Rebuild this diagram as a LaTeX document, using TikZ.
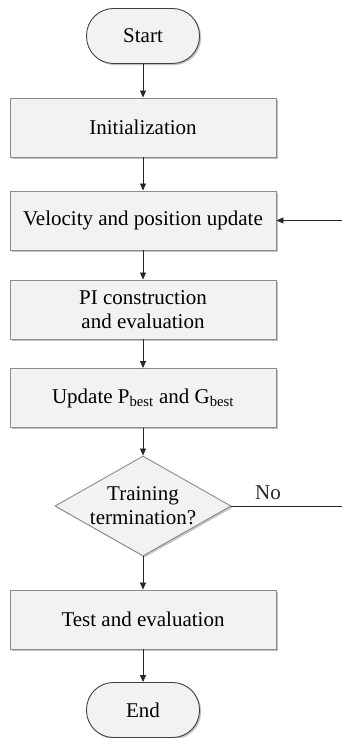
\documentclass[tikz,border=0pt]{standalone}
\usepackage{fontspec}
\setmainfont{Liberation Serif}
\usepackage{xcolor}
\usetikzlibrary{arrows.meta,shapes.geometric,shadows}
\colorlet{boxfill}{black!5}
\colorlet{boxline}{black!45}
\colorlet{termline}{black!75}
\tikzstyle{shade}=[drop shadow={shadow xshift=1.6pt,shadow yshift=-1.6pt,fill=black!40,opacity=.6}]
\tikzstyle{proc}=[rectangle,draw=boxline,fill=boxfill,line width=.9pt,shade,minimum width=266pt,minimum height=59pt,align=center,inner sep=0pt]
\tikzstyle{term}=[rectangle,rounded corners=27pt,draw=termline,fill=boxfill,line width=.9pt,shade,minimum width=113pt,minimum height=55pt,inner sep=0pt]
\tikzstyle{decide}=[diamond,draw=boxline,fill=boxfill,line width=.9pt,shade,minimum width=176pt,minimum height=100pt,inner sep=0pt]
\tikzstyle{flow}=[line width=.8pt,black!85,-{Triangle[length=7pt,width=6pt]}]
\tikzstyle{plain}=[line width=.8pt,black!85]
\begin{document}
\begin{tikzpicture}[font=\fontsize{21}{24}\selectfont]
  \useasboundingbox (0,0) rectangle (342pt,-738pt);
  \node[term] (start) at (143pt,-36pt) {Start};
  \node[proc] (init)  at (143pt,-127.5pt) {Initialization};
  \node[proc] (vel)   at (143pt,-220.5pt) {Velocity and position update};
  \node[proc] (pic)   at (143pt,-309.5pt) {PI construction\\and evaluation};
  \node[proc] (upd)   at (143pt,-398pt) {Update P\textsubscript{best} and G\textsubscript{best}};
  \node[decide] (dec) at (143pt,-506pt) {};
  \node[align=center] (dectext) at (dec.center) {Training\\termination?};
  \node[proc] (test)  at (143pt,-619.5pt) {Test and evaluation};
  \node[term] (stop)  at (143pt,-710pt) {End};
  \coordinate (noend)  at (342pt,-506pt);
  \coordinate (loopin) at (342pt,-220.5pt);
  \draw[flow] (start) -- (init);
  \draw[flow] (init) -- (vel);
  \draw[flow] (vel) -- (pic);
  \draw[flow] (pic) -- (upd);
  \draw[flow] (upd) -- (dec);
  \draw[flow] (dec) -- (test);
  \draw[flow] (test) -- (stop);
  \draw[plain] (dec.east) -- node[pos=.33,above=3pt] (nolab) {No} (noend);
  \draw[flow] (loopin) -- (vel.east);
\end{tikzpicture}
\end{document}
